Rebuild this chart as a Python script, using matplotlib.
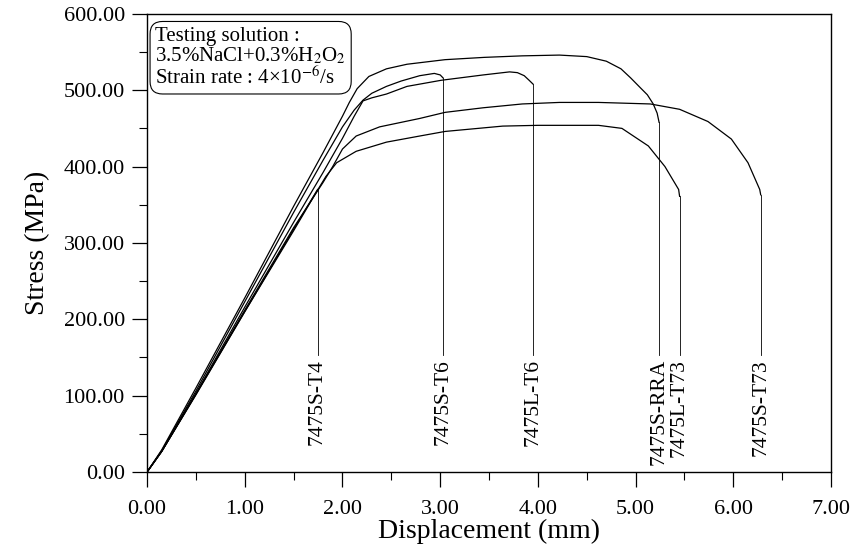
import matplotlib
matplotlib.use('Agg')
import matplotlib.pyplot as plt
from matplotlib.ticker import FormatStrFormatter, MultipleLocator

plt.rcParams['font.family'] = ['Liberation Serif', 'DejaVu Serif']
plt.rcParams['mathtext.fontset'] = 'stix'

# 各試片的位移 (mm) / 應力 (MPa)
names = ['7475S-T4', '7475S-T6', '7475L-T6', '7475S-RRA', '7475L-T73', '7475S-T73']

s_t4_x = [0, 0.15, 0.5, 1.0, 1.5, 1.745]
s_t4_y = [0, 27, 102, 210, 318, 370]

s_t6_x = [0, 0.15, 0.5, 1.0, 1.5, 1.8, 2.0, 2.12, 2.21, 2.3, 2.45, 2.6, 2.79, 2.94, 3.0, 3.03]
s_t6_y = [0, 28, 106, 223, 340, 408, 452, 474, 487, 496, 505, 512, 519, 522, 520, 516]

l_t6_x = [0, 0.15, 0.5, 1.0, 1.5, 1.8, 2.0, 2.12, 2.21, 2.3, 2.45, 2.66, 3.01, 3.44, 3.71,
          3.79, 3.86, 3.91, 3.95]
l_t6_y = [0, 27, 103, 216, 327, 392, 437, 466, 486, 490, 495, 505, 513, 520, 524,
          523, 519, 513, 508]

s_rra_x = [0, 0.15, 0.5, 1.0, 1.5, 1.8, 2.0, 2.07, 2.15, 2.27, 2.45, 2.66, 3.05, 3.45, 3.84,
           4.22, 4.5, 4.7, 4.85, 4.95, 5.05, 5.12, 5.18, 5.22, 5.24]
s_rra_y = [0, 29, 110, 228, 348, 418, 466, 484, 502, 518, 528, 534, 540, 543, 545,
           546, 544, 538, 528, 516, 503, 494, 482, 470, 458]

l_t73_x = [0, 0.15, 0.5, 1.0, 1.5, 1.73, 1.83, 1.94, 2.14, 2.45, 2.79, 3.05, 3.64, 4.0,
           4.42, 4.62, 4.86, 5.13, 5.3, 5.44, 5.45]
l_t73_y = [0, 27, 101, 210, 316, 366, 387, 405, 420, 432, 440, 446, 453, 454,
           454, 454, 450, 427, 400, 370, 361]

s_t73_x = [0, 0.15, 0.5, 1.0, 1.5, 1.8, 1.9, 2.0, 2.14, 2.38, 2.79, 3.05, 3.44, 3.84, 4.22,
           4.62, 5.15, 5.45, 5.74, 5.98, 6.15, 6.27, 6.28]
s_t73_y = [0, 27, 102, 212, 320, 379, 400, 423, 440, 452, 463, 471, 477, 482, 484,
           484, 482, 475, 459, 436, 405, 370, 363]

curves = [(s_t4_x, s_t4_y), (s_t6_x, s_t6_y), (l_t6_x, l_t6_y),
          (s_rra_x, s_rra_y), (l_t73_x, l_t73_y), (s_t73_x, s_t73_y)]

label_top = 148   # 標籤上緣 (MPa)
leader_bottom = 153


def main():
    fig = plt.figure(figsize=(8.55, 5.54), dpi=100)
    ax = fig.add_axes([0.172, 0.148, 0.8, 0.827])

    for name, (x, y) in zip(names, curves):
        ax.plot(x, y, color='black', lw=0.9)
        # 斷裂點往下的引線
        ax.plot([x[-1], x[-1]], [y[-1], leader_bottom], color='black', lw=0.6)
        ax.text(x[-1], label_top, name, rotation=90, ha='center', va='top',
                fontsize=15.5)

    ax.set_xlim(0, 7)
    ax.set_ylim(0, 600)
    ax.xaxis.set_major_locator(MultipleLocator(1))
    ax.xaxis.set_minor_locator(MultipleLocator(0.5))
    ax.yaxis.set_major_locator(MultipleLocator(100))
    ax.yaxis.set_minor_locator(MultipleLocator(50))
    ax.xaxis.set_major_formatter(FormatStrFormatter('%.2f'))
    ax.yaxis.set_major_formatter(FormatStrFormatter('%.2f'))
    ax.tick_params(which='major', direction='out', length=11, width=0.9,
                   labelsize=16)
    ax.tick_params(axis='x', which='major', pad=9)
    ax.tick_params(axis='y', which='major', pad=5)
    ax.tick_params(which='minor', direction='out', length=6, width=0.8)
    for sp in ax.spines.values():
        sp.set_linewidth(1.0)

    ax.set_xlabel('Displacement (mm)', fontsize=20, labelpad=0)
    ax.set_ylabel('Stress (MPa)', fontsize=20, labelpad=10)

    ax.text(0.012, 0.972,
            'Testing solution :\n3.5%NaCl+0.3%H$_2$O$_2$\nStrain rate : 4\u00d710$^{-6}$/s',
            transform=ax.transAxes, ha='left', va='top', fontsize=15,
            linespacing=1.0,
            bbox=dict(boxstyle='round,pad=0.25,rounding_size=0.6',
                      facecolor='white', edgecolor='black', lw=0.8))

    fig.savefig('out.png', dpi=100)


if __name__ == '__main__':
    main()
